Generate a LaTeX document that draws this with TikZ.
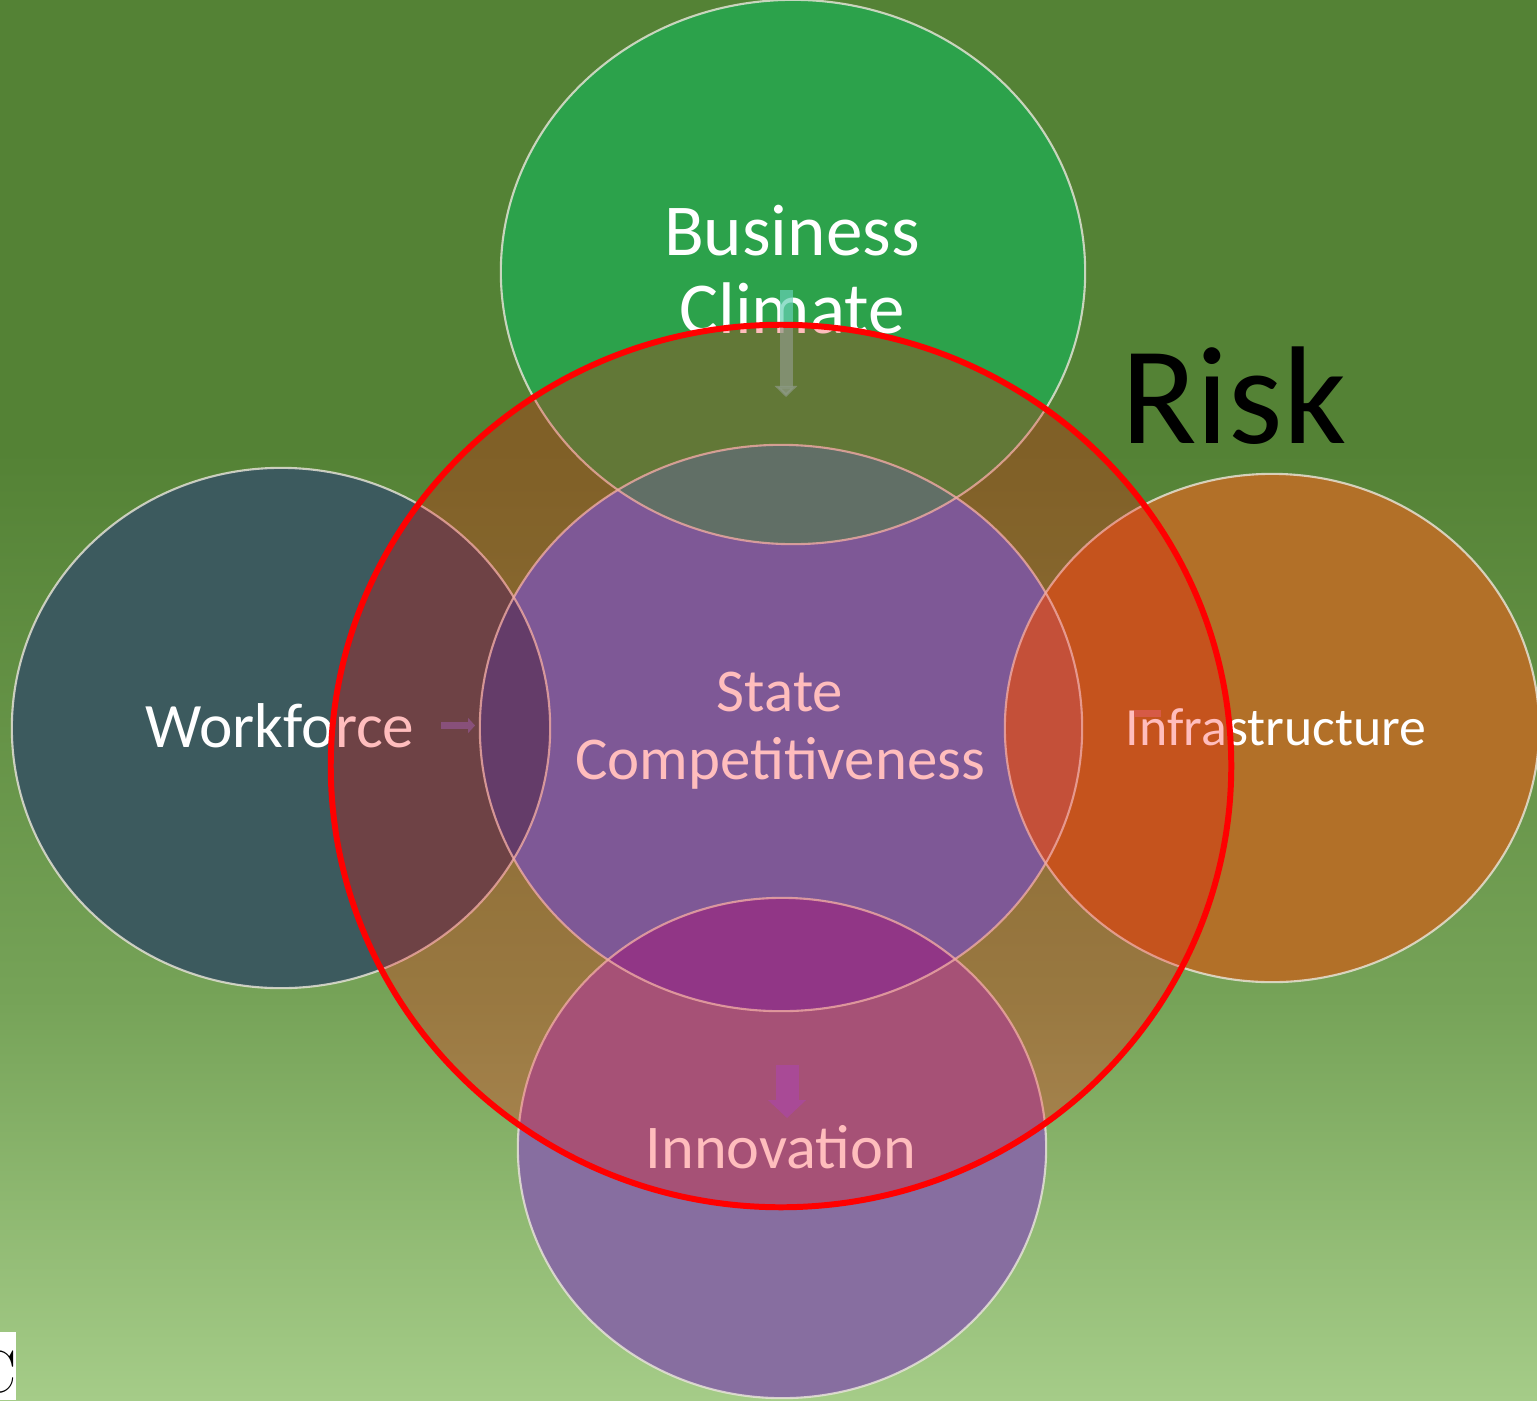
\documentclass[tikz,border=0pt]{standalone}
\usepackage{fontspec}
\newfontfamily\calib{Carlito}
\usetikzlibrary{arrows.meta}
\definecolor{bgtop}{RGB}{84,130,53}
\definecolor{bgmid}{RGB}{118,163,88}
\definecolor{bgbot}{RGB}{165,204,136}
\definecolor{bcgreen}{RGB}{44,162,75}
\definecolor{wfteal}{RGB}{60,90,94}
\definecolor{inforange}{RGB}{178,112,40}
\definecolor{innpurple}{RGB}{135,110,160}
\definecolor{centblue}{RGB}{82,120,203}
\definecolor{ovbc}{RGB}{43,151,138}
\definecolor{ovwf}{RGB}{46,81,142}
\definecolor{ovinn}{RGB}{107,74,182}
\definecolor{ovinf}{RGB}{176,108,78}
\definecolor{rimcol}{RGB}{235,230,220}
\definecolor{arrbc}{RGB}{103,209,182}
\definecolor{arrwf}{RGB}{95,108,165}
\definecolor{arrinn}{RGB}{140,101,203}
\definecolor{arrinf}{RGB}{201,122,95}
\tikzset{
  lbl/.style={text=white, inner sep=0pt, align=center},
  rim/.style={draw=rimcol, line width=0.6pt, draw opacity=0.8}
}
\begin{document}
\begin{tikzpicture}[x=0.01cm,y=-0.01cm]
\useasboundingbox (0,0) rectangle (1537,1400);
\fill[bgtop] (0,0) rectangle (1537,452);
\shade[top color=bgtop, bottom color=bgmid] (0,450) rectangle (1537,1002);
\shade[top color=bgmid, bottom color=bgbot] (0,1000) rectangle (1537,1400);

% centres
\coordinate (bc) at (793,272);
\coordinate (ce) at (781,728);
\coordinate (wf) at (281,728);
\coordinate (inf) at (1272,728);
\coordinate (inn) at (782,1148);
\coordinate (rk) at (781,766);

% outer circles
\fill[wfteal] (wf) ellipse [x radius=2.69cm, y radius=2.60cm];
\fill[inforange] (inf) ellipse [x radius=2.67cm, y radius=2.54cm];
\fill[innpurple] (inn) ellipse [x radius=2.64cm, y radius=2.50cm];
\fill[bcgreen] (bc) ellipse [x radius=2.92cm, y radius=2.72cm];
% central circle
\fill[centblue] (ce) ellipse [x radius=3.01cm, y radius=2.83cm];
% overlaps with the central circle
\begin{scope}
  \clip (ce) ellipse [x radius=3.01cm, y radius=2.83cm];
  \fill[ovbc] (bc) ellipse [x radius=2.92cm, y radius=2.72cm];
  \fill[ovwf] (wf) ellipse [x radius=2.69cm, y radius=2.60cm];
  \fill[ovinf] (inf) ellipse [x radius=2.67cm, y radius=2.54cm];
  \fill[ovinn] (inn) ellipse [x radius=2.64cm, y radius=2.50cm];
\end{scope}
% rims
\path[rim] (wf) ellipse [x radius=2.69cm, y radius=2.60cm];
\path[rim] (inf) ellipse [x radius=2.67cm, y radius=2.54cm];
\path[rim] (inn) ellipse [x radius=2.64cm, y radius=2.50cm];
\path[rim] (bc) ellipse [x radius=2.92cm, y radius=2.72cm];
\path[rim] (ce) ellipse [x radius=3.01cm, y radius=2.83cm];

% labels
\node[lbl, font=\calib\fontsize{20.8}{22.2}\selectfont] (bctext) at (792,270) {Business\\Climate};
\node[lbl, font=\calib\fontsize{17.3}{19.4}\selectfont] (cetext) at (780,731) {State\\Competitiveness};
\node[lbl, anchor=base, font=\calib\fontsize{18}{20}\selectfont] (wftext) at (280,747) {Workforce};
\node[lbl, anchor=base, font=\calib\fontsize{15.3}{17}\selectfont] (inftext) at (1276,745) {Infrastructure};
\node[lbl, anchor=base, font=\calib\fontsize{17.7}{19}\selectfont] (inntext) at (781,1168) {Innovation};

% small block arrows
\coordinate (a1s) at (786,290);
\coordinate (a1e) at (786,397);
\draw[arrbc, opacity=0.7, line width=0.13cm, -{Triangle[width=0.22cm,length=0.11cm]}] (a1s) -- (a1e);
\coordinate (a2s) at (441,725.5);
\coordinate (a2e) at (475,725.5);
\draw[arrwf, line width=0.07cm, -{Triangle[width=0.15cm,length=0.07cm]}] (a2s) -- (a2e);
\coordinate (a3s) at (787,1065);
\coordinate (a3e) at (787,1118);
\draw[arrinn, line width=0.23cm, -{Triangle[width=0.37cm,length=0.18cm]}] (a3s) -- (a3e);
\coordinate (a4s) at (1161,713.5);
\coordinate (a4e) at (1134,713.5);
\draw[arrinf, line width=0.07cm] (a4s) -- (a4e);

% risk circle
\fill[red, opacity=0.26] (rk) ellipse [x radius=4.50cm, y radius=4.41cm];
\draw[red, line width=1.7pt] (rk) ellipse [x radius=4.50cm, y radius=4.41cm];
\node[anchor=base, inner sep=0pt, text=black, font=\calib\fontsize{39.6}{42}\selectfont] (risk) at (1234,443) {Risk};

% cut-off corner box
\begin{scope}
  \fill[white] (0,1332) rectangle (16,1400);
  \clip (0,1332) rectangle (16,1400);
  \node[anchor=base east, inner sep=0pt, text=black, font=\fontsize{17}{17}\selectfont] (cc) at (17,1392) {C};
\end{scope}
\end{tikzpicture}
\end{document}
